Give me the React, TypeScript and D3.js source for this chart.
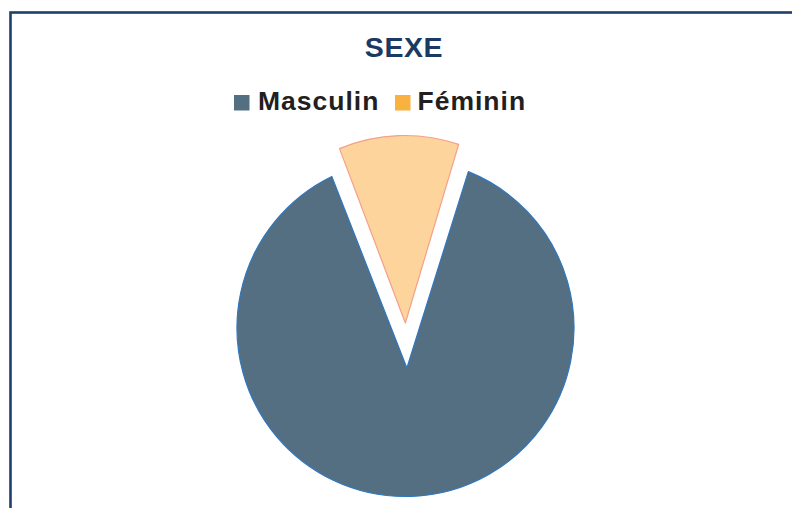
import React from "react";
import * as d3 from "d3";

const categories = ["Masculin", "Féminin"];
const values = [89.6, 10.4];
const sliceFills = ["#546e82", "#fdd49b"];
const sliceStrokes = ["#2f78c0", "#f4a08a"];
const legendFills = ["#546e82", "#f9b23f"];
const title = "SEXE";

const W = 792;
const H = 508;
const CX = 405.5;
const CY = 328;
const R = 168.5;
const deg = Math.PI / 180;
// per-slice explosion geometry: arc-centre offset, apex offset, angular padding of arc corners
const arcShift = [0, 24];
const apexShift = [40, 5];
const cornerPad = [5.2 * deg, -2 * deg];

export default function App() {
  const pie = d3
    .pie<number>()
    .sort(null)
    .startAngle(16.7 * deg)
    .endAngle(16.7 * deg + 2 * Math.PI);
  const arcs = pie(values);

  const paths = arcs.map((a, i) => {
    const mid = (a.startAngle + a.endAngle) / 2;
    const dx = Math.sin(mid);
    const dy = -Math.cos(mid);
    const acx = CX + dx * arcShift[i];
    const acy = CY + dy * arcShift[i];
    const px = CX + dx * apexShift[i];
    const py = CY + dy * apexShift[i];
    const s = a.startAngle + cornerPad[i];
    const e = a.endAngle - cornerPad[i];
    const p = d3.path();
    p.moveTo(px, py);
    p.lineTo(acx + R * Math.sin(s), acy - R * Math.cos(s));
    p.arc(acx, acy, R, s - Math.PI / 2, e - Math.PI / 2, false);
    p.closePath();
    return p.toString();
  });

  const legendX = [234, 395];
  const legendTextX = [258, 417.5];

  return (
    <svg
      width={W}
      height={H}
      style={{ position: "absolute", left: 0, top: 0, background: "#fff" }}
      fontFamily="'Liberation Sans', Arial, sans-serif"
    >
      <rect x={0} y={0} width={W} height={H} fill="#fff" />
      <rect x={10.5} y={12.5} width={W + 20} height={H + 20} fill="none" stroke="#203f6a" strokeWidth={2.6} />
      <text x={404} y={57.3} textAnchor="middle" fontSize={28.5} fontWeight="bold" fill="#1b3a63" letterSpacing={0.6}>
        {title}
      </text>
      {categories.map((c, i) => (
        <g key={c}>
          <rect x={legendX[i]} y={95} width={15.5} height={15.5} fill={legendFills[i]} />
          <text x={legendTextX[i]} y={110.3} fontSize={26.5} fontWeight="bold" fill="#231f20" letterSpacing={1}>
            {c}
          </text>
        </g>
      ))}
      {paths.map((d, i) => (
        <path key={i} d={d} fill={sliceFills[i]} stroke={sliceStrokes[i]} strokeWidth={1.2} strokeLinejoin="round" />
      ))}
    </svg>
  );
}
